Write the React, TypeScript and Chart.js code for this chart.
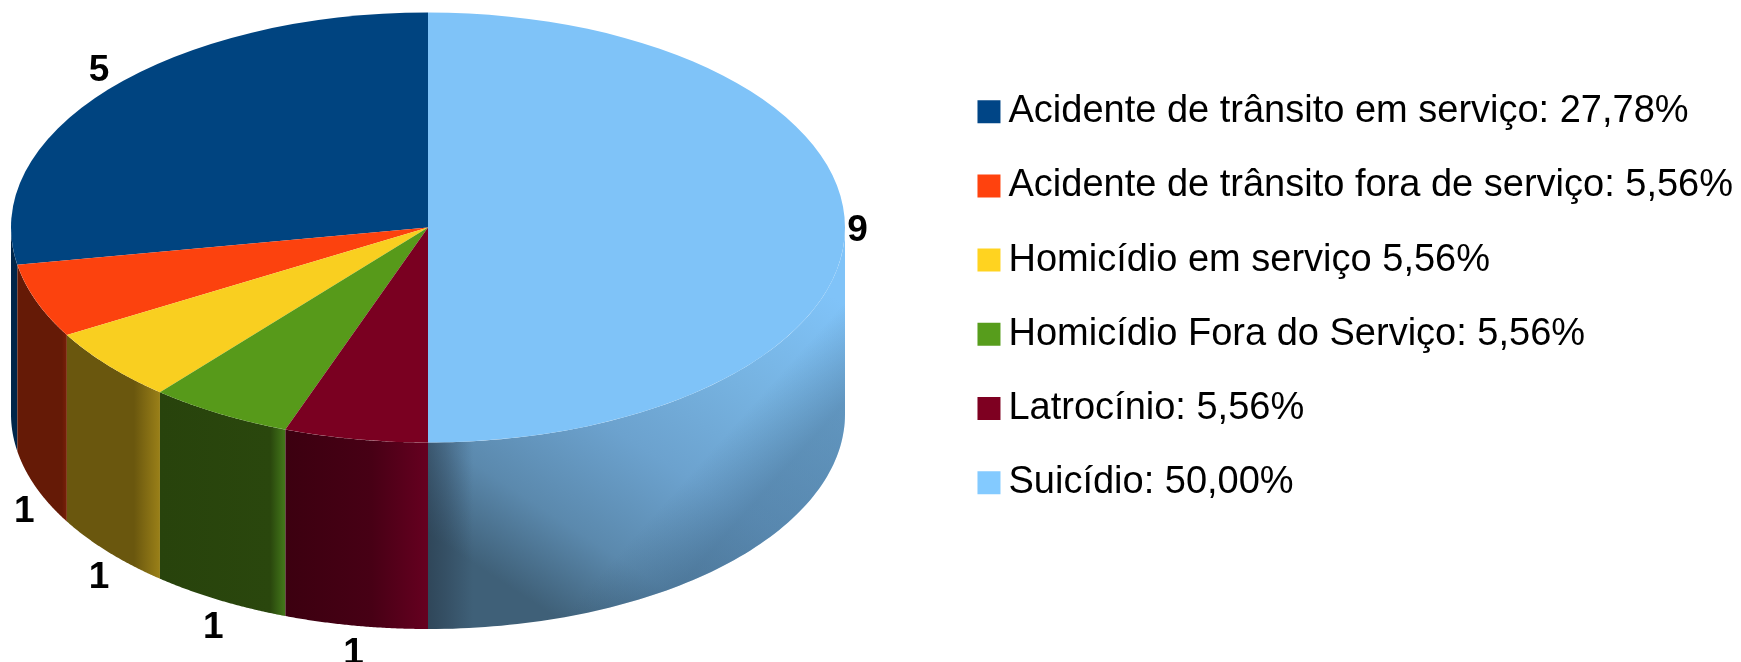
import React, { useEffect, useRef } from "react";
import { Chart, registerables } from "chart.js";

Chart.register(...registerables);

const labels = [
  "Acidente de trânsito em serviço: 27,78%",
  "Acidente de trânsito fora de serviço: 5,56%",
  "Homicídio em serviço 5,56%",
  "Homicídio Fora do Serviço: 5,56%",
  "Latrocínio: 5,56%",
  "Suicídio: 50,00%",
];
const values = [5, 1, 1, 1, 1, 9];
const colors = ["#004480", "#fc420e", "#f9cf20", "#579a1a", "#7a0021", "#7fc3f8"];
const legendColors = ["#004586", "#ff420e", "#ffd320", "#579d1c", "#7e0021", "#83caff"];

// horizontal shading of each slice's side wall
const wallStops: [number, string][][] = [
  [[0, "#00264a"], [1, "#00264a"]],
  [[0, "#651a06"], [0.9, "#651a06"], [1, "#7a2008"]],
  [[0, "#6a570e"], [0.72, "#6a570e"], [1, "#9a8018"]],
  [[0, "#28430c"], [0.88, "#2a470d"], [1, "#44791a"]],
  [[0, "#3c0010"], [0.6, "#470015"], [1, "#660020"]],
  [[0, "#6ea5cf"], [1, "#6ea5cf"]],
];

const RX = 417;
const RY = 215;
const CX = 428;
const CY = 227.5;
const DEPTH = 186.5;
const FONT = '"Liberation Sans", Arial, sans-serif';

const pie3d = {
  id: "pie3d",
  beforeDatasetsDraw(chart: any) {
    const { ctx } = chart;
    const arcs = chart.getDatasetMeta(0).data;
    arcs.forEach((arc: any, i: number) => {
      const a0 = Math.max(arc.startAngle, 0);
      const a1 = Math.min(arc.endAngle, Math.PI);
      if (a1 <= a0) return;
      const px = (a: number) => CX - RX * Math.cos(a);
      const py = (a: number) => CY + RY * Math.sin(a);
      const n = 80;
      const path = () => {
        ctx.beginPath();
        for (let k = 0; k <= n; k++) {
          const a = a0 + ((a1 - a0) * k) / n;
          ctx.lineTo(px(a), py(a));
        }
        for (let k = n; k >= 0; k--) {
          const a = a0 + ((a1 - a0) * k) / n;
          ctx.lineTo(px(a), py(a) + DEPTH);
        }
        ctx.closePath();
      };
      const x0 = px(a0);
      const x1 = px(a1);
      ctx.save();
      path();
      if (i === arcs.length - 1) {
        const g = ctx.createLinearGradient(CX + RX * 0.9, CY + 50, CX + RX * 0.35, CY + DEPTH + RY);
        g.addColorStop(0, "#80c3f8");
        g.addColorStop(0.3, "#76b2e0");
        g.addColorStop(0.55, "#6ca2ce");
        g.addColorStop(0.8, "#5b89ad");
        g.addColorStop(1, "#3f6078");
        ctx.fillStyle = g;
        ctx.fill();
        const l = ctx.createLinearGradient(x0, 0, x0 + 45, 0);
        l.addColorStop(0, "rgba(35,50,65,0.55)");
        l.addColorStop(0.4, "rgba(35,50,65,0.35)");
        l.addColorStop(1, "rgba(35,50,65,0)");
        ctx.fillStyle = l;
        ctx.fill();
        const r = ctx.createLinearGradient(x1 - 50, CY + 130, x1, CY + 175);
        r.addColorStop(0, "rgba(50,85,115,0)");
        r.addColorStop(1, "rgba(50,85,115,0.35)");
        ctx.fillStyle = r;
        ctx.fill();
      } else {
        const g = ctx.createLinearGradient(x0, 0, x1, 0);
        wallStops[i].forEach(([o, c]) => g.addColorStop(o, c));
        ctx.fillStyle = g;
        ctx.fill();
      }
      ctx.restore();
    });
    // squash the library's circular pie into the top face of the disc
    const first = arcs[0];
    const R = first.outerRadius;
    ctx.save();
    ctx.translate(CX, CY);
    ctx.scale(-RX / R, RY / R);
    ctx.translate(-first.x, -first.y);
  },
  afterDatasetsDraw(chart: any) {
    const { ctx } = chart;
    ctx.restore();
    const arcs = chart.getDatasetMeta(0).data;
    ctx.save();
    ctx.fillStyle = "#000";
    ctx.font = `bold 37px ${FONT}`;
    ctx.textAlign = "center";
    ctx.textBaseline = "middle";
    arcs.forEach((arc: any, i: number) => {
      const mid = (arc.startAngle + arc.endAngle) / 2;
      const s = Math.sin(mid);
      const dy = s > 0.02 ? DEPTH * 1.1 + 3 : s < -0.02 ? -14 : 3;
      const x = CX - RX * 1.03 * Math.cos(mid);
      const y = CY + RY * 1.03 * s + dy;
      ctx.fillText(String(values[i]), x, y);
    });
    ctx.restore();
  },
};

export default function App() {
  const ref = useRef<HTMLCanvasElement>(null);
  useEffect(() => {
    const chart = new Chart(ref.current as HTMLCanvasElement, {
      type: "pie",
      data: {
        labels,
        datasets: [{ data: values, backgroundColor: colors, borderWidth: 0, clip: false } as any],
      },
      options: {
        responsive: false,
        animation: false,
        devicePixelRatio: 1,
        layout: { padding: { top: 56.5, right: -2 } },
        plugins: {
          tooltip: { enabled: false },
          legend: {
            position: "right",
            align: "start",
            labels: {
              usePointStyle: true,
              pointStyle: "rect",
              boxWidth: 1,
              boxHeight: 23,
              padding: 36.2,
              color: "#000",
              font: { family: FONT, size: 38 },
              generateLabels: (c: any) =>
                (Chart.overrides.pie.plugins.legend.labels as any)
                  .generateLabels(c)
                  .map((it: any, i: number) => ({ ...it, fillStyle: legendColors[i] })),
            },
          },
        },
      },
      plugins: [pie3d],
    } as any);
    return () => chart.destroy();
  }, []);
  return (
    <canvas
      ref={ref}
      width={1741}
      height={662}
      style={{ position: "absolute", left: 0, top: 0, display: "block" }}
    />
  );
}
